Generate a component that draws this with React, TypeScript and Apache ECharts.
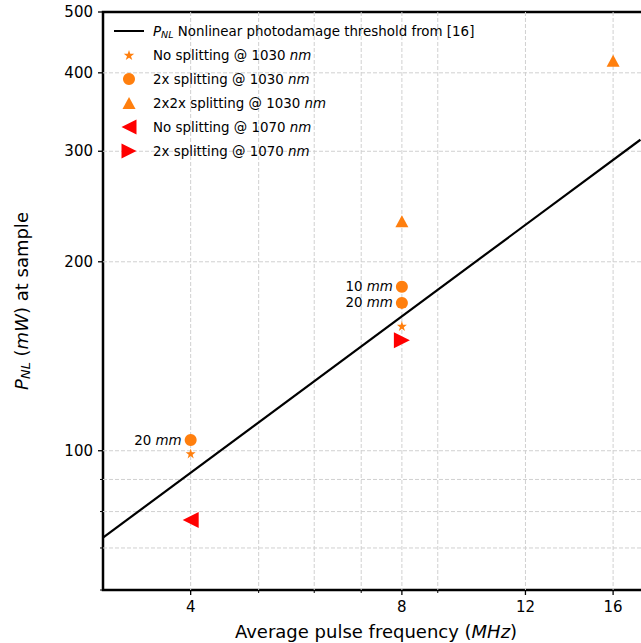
import React, { useEffect, useRef } from 'react';
import * as echarts from 'echarts';

const FONT = 'DejaVu Sans';
const ORANGE = '#ff7f0e';
const RED = '#ff0000';

// Axis ranges (log scales)
const X_MIN = 3;
const X_MAX = 18;
const Y_MIN = 60;
const Y_MAX = 500;

// Tick positions
const xMajorTicks = [4, 8, 12, 16];
const xMinorTicks = [5, 6, 7, 9];
const yMajorTicks = [100, 200, 300, 400, 500];
const yMinorTicks = [60, 70, 80, 90];

// Data
const thresholdLine = [[3, 72.7], [17.5, 313]];
const noSplit1030 = [[4, 99], [8, 158]];
const split2x1030 = [[4, 104], [8, 182.5], [8, 172]];
const split2x1030Labels = ['20', '10', '20'];
const split2x2x1030 = [[8, 232], [16, 418]];
const noSplit1070 = [[4, 77.6]];
const split2x1070 = [[8, 150]];

const STAR = 'path://M100,0L122.45,69.1L195.1,69.1L136.33,111.8L158.78,180.9L100,138.2L41.22,180.9L63.67,111.8L4.9,69.1L77.55,69.1Z';
const TRI_UP = 'path://M50,0L100,92L0,92Z';
const TRI_LEFT = 'path://M0,50L100,0L100,100Z';
const TRI_RIGHT = 'path://M0,0L100,50L0,100Z';

const N_LINE = 'threshold';
const N_NS1030 = 'No splitting @ 1030 nm';
const N_2X1030 = '2x splitting @ 1030 nm';
const N_2X2X1030 = '2x2x splitting @ 1030 nm';
const N_NS1070 = 'No splitting @ 1070 nm';
const N_2X1070 = '2x splitting @ 1070 nm';

// w = drawn icon width, h = icon box height
const legendEntries = [
  { name: N_LINE, icon: 'rect', w: 30, h: 2, text: '{p|P}{s|NL} Nonlinear photodamage threshold from [16]' },
  { name: N_NS1030, icon: STAR, w: 10.5, h: 10, text: 'No splitting @ 1030 {i|nm}' },
  { name: N_2X1030, icon: 'circle', w: 12, h: 12, text: '2x splitting @ 1030 {i|nm}' },
  { name: N_2X2X1030, icon: TRI_UP, w: 13, h: 12, text: '2x2x splitting @ 1030 {i|nm}' },
  { name: N_NS1070, icon: TRI_LEFT, w: 15, h: 15, text: 'No splitting @ 1070 {i|nm}' },
  { name: N_2X1070, icon: TRI_RIGHT, w: 15, h: 15, text: '2x splitting @ 1070 {i|nm}' },
];

const LF = 13.4;
const richSmall = {
  p: { fontStyle: 'italic', fontSize: LF, fontFamily: FONT, color: '#000', lineHeight: 16 },
  s: { fontStyle: 'italic', fontSize: 9.5, fontFamily: FONT, color: '#000', lineHeight: 9, verticalAlign: 'bottom' },
  i: { fontStyle: 'italic', fontSize: LF, fontFamily: FONT, color: '#000', lineHeight: 16 },
};

const GRID_COLOR = '#d0d0d0';

function tickSeries(axis: 'x' | 'y', values: number[], major: boolean) {
  return {
    type: 'custom',
    coordinateSystem: 'cartesian2d',
    silent: true,
    clip: false,
    z: 1,
    data: values.map((v) => (axis === 'x' ? [v, Y_MIN] : [X_MIN, v])),
    renderItem: (params: any, api: any) => {
      const cs = params.coordSys;
      const left = cs.x;
      const right = cs.x + cs.width;
      const top = cs.y;
      const bottom = cs.y + cs.height;
      const len = major ? 5 : 3;
      const children: any[] = [];
      if (axis === 'x') {
        const v = api.value(0);
        const px = api.coord([v, Y_MIN])[0];
        if (px > left + 1 && px < right - 1) {
          children.push({
            type: 'line',
            shape: { x1: px, y1: top, x2: px, y2: bottom },
            style: { stroke: GRID_COLOR, lineWidth: 1, lineDash: [4, 2] },
          });
        }
        children.push({
          type: 'line',
          shape: { x1: px, y1: bottom, x2: px, y2: bottom + len },
          style: { stroke: '#000', lineWidth: major ? 1.3 : 1 },
        });
        if (major) {
          children.push({
            type: 'text',
            x: px,
            y: bottom + 17,
            style: {
              text: String(v),
              fill: '#000',
              fontSize: 15,
              fontFamily: FONT,
              align: 'center',
              verticalAlign: 'middle',
              textAlign: 'center',
              textVerticalAlign: 'middle',
            },
          });
        }
      } else {
        const v = api.value(1);
        const py = api.coord([X_MIN, v])[1];
        if (py > top + 1 && py < bottom - 1) {
          children.push({
            type: 'line',
            shape: { x1: left, y1: py, x2: right, y2: py },
            style: { stroke: GRID_COLOR, lineWidth: 1, lineDash: [4, 2] },
          });
        }
        children.push({
          type: 'line',
          shape: { x1: left - len, y1: py, x2: left, y2: py },
          style: { stroke: '#000', lineWidth: major ? 1.3 : 1 },
        });
        if (major) {
          children.push({
            type: 'text',
            x: left - 10,
            y: py,
            style: {
              text: String(v),
              fill: '#000',
              fontSize: 15,
              fontFamily: FONT,
              align: 'right',
              verticalAlign: 'middle',
              textAlign: 'right',
              textVerticalAlign: 'middle',
            },
          });
        }
      }
      return { type: 'group', children };
    },
  };
}

export default function App() {
  const ref = useRef<HTMLDivElement>(null);

  useEffect(() => {
    if (!ref.current) return;
    const chart = echarts.init(ref.current, undefined, { renderer: 'svg' });

    const legends = legendEntries.map((e, i) => ({
      left: 129 - e.w / 2,
      top: 31 + 24 * i - 8,
      orient: 'horizontal',
      padding: 0,
      itemWidth: 30,
      itemHeight: e.h,
      selectedMode: false,
      data: [{ name: e.name, icon: e.icon }],
      formatter: () => e.text,
      textStyle: {
        fontSize: LF,
        fontFamily: FONT,
        color: '#000',
        lineHeight: 16,
        padding: [0, 0, 0, 4],
        rich: richSmall,
      },
    }));

    const option: any = {
      animation: false,
      backgroundColor: '#fff',
      textStyle: { fontFamily: FONT },
      grid: {
        left: 103,
        top: 12,
        right: -8,
        bottom: 53,
        containLabel: false,
        outerBoundsMode: 'none',
        show: true,
        borderColor: '#000',
        borderWidth: 2.5,
        backgroundColor: 'transparent',
      },
      legend: legends,
      xAxis: {
        type: 'log',
        min: X_MIN,
        max: X_MAX,
        axisLine: { show: false },
        axisTick: { show: false },
        axisLabel: { show: false },
        splitLine: { show: false },
        name: 'Average pulse frequency ({i|MHz})',
        nameLocation: 'middle',
        nameGap: 32,
        nameTextStyle: {
          fontSize: 18,
          fontFamily: FONT,
          color: '#000',
          rich: { i: { fontStyle: 'italic', fontSize: 18, fontFamily: FONT, color: '#000' } },
        },
      },
      yAxis: {
        type: 'log',
        min: Y_MIN,
        max: Y_MAX,
        axisLine: { show: false },
        axisTick: { show: false },
        axisLabel: { show: false },
        splitLine: { show: false },
        name: '{p|P}{s|NL} ({i|mW}) at sample',
        nameLocation: 'middle',
        nameGap: 71,
        nameTextStyle: {
          fontSize: 18,
          fontFamily: FONT,
          color: '#000',
          lineHeight: 22,
          rich: {
            p: { fontStyle: 'italic', fontSize: 18, fontFamily: FONT, color: '#000', lineHeight: 22 },
            s: { fontStyle: 'italic', fontSize: 13, fontFamily: FONT, color: '#000', lineHeight: 12, verticalAlign: 'bottom' },
            i: { fontStyle: 'italic', fontSize: 18, fontFamily: FONT, color: '#000', lineHeight: 22 },
          },
        },
      },
      series: [
        tickSeries('x', xMajorTicks, true),
        tickSeries('x', xMinorTicks, false),
        tickSeries('y', yMajorTicks, true),
        tickSeries('y', yMinorTicks, false),
        {
          name: N_LINE,
          type: 'line',
          data: thresholdLine,
          symbol: 'none',
          color: '#000',
          lineStyle: { color: '#000', width: 2.2 },
          z: 2,
        },
        {
          name: N_NS1030,
          type: 'scatter',
          data: noSplit1030,
          symbol: STAR,
          symbolSize: 10,
          itemStyle: { color: ORANGE, opacity: 1 },
          z: 3,
        },
        {
          name: N_2X1030,
          type: 'scatter',
          data: split2x1030,
          symbol: 'circle',
          symbolSize: 12,
          itemStyle: { color: ORANGE, opacity: 1 },
          z: 3,
          label: {
            show: true,
            position: 'left',
            distance: 3,
            formatter: (p: any) => split2x1030Labels[p.dataIndex] + ' {i|mm}',
            fontSize: LF,
            fontFamily: FONT,
            color: '#000',
            rich: { i: { fontStyle: 'italic', fontSize: LF, fontFamily: FONT, color: '#000' } },
          },
        },
        {
          name: N_2X2X1030,
          type: 'scatter',
          data: split2x2x1030,
          symbol: TRI_UP,
          symbolSize: [13, 12],
          itemStyle: { color: ORANGE, opacity: 1 },
          z: 3,
        },
        {
          name: N_NS1070,
          type: 'scatter',
          data: noSplit1070,
          symbol: TRI_LEFT,
          symbolSize: 16,
          itemStyle: { color: RED, opacity: 1 },
          z: 3,
        },
        {
          name: N_2X1070,
          type: 'scatter',
          data: split2x1070,
          symbol: TRI_RIGHT,
          symbolSize: 16,
          itemStyle: { color: RED, opacity: 1 },
          z: 3,
        },
      ],
    };

    chart.setOption(option);
    return () => chart.dispose();
  }, []);

  return (
    <div
      ref={ref}
      style={{ position: 'absolute', left: 0, top: 0, width: 641, height: 643 }}
    />
  );
}
